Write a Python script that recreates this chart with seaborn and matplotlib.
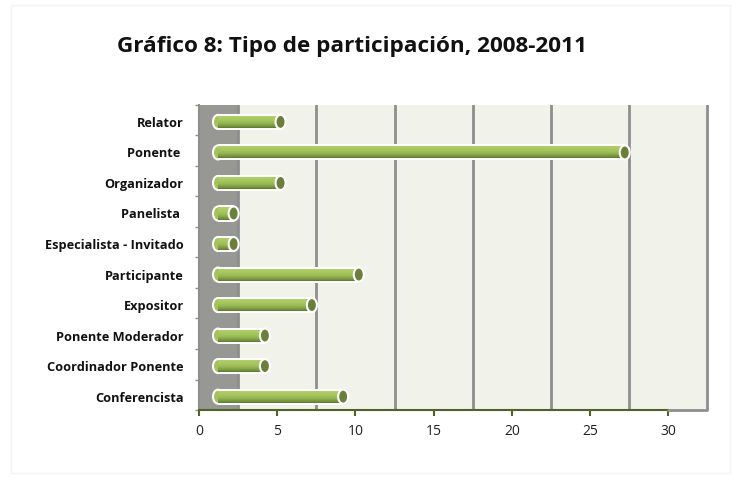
import numpy as np
import pandas as pd
import matplotlib
matplotlib.use('Agg')
from matplotlib import pyplot as plt
import seaborn as sns
from matplotlib.transforms import ScaledTranslation
from matplotlib.patches import Ellipse, Rectangle
from matplotlib.colors import LinearSegmentedColormap

# data
categories = ['Relator', 'Ponente ', 'Organizador', 'Panelista ', 'Especialista - Invitado',
              'Participante', 'Expositor', 'Ponente Moderador', 'Coordinador Ponente', 'Conferencista']
values = [4, 26, 4, 1, 1, 9, 6, 3, 3, 8]
xticks = [0, 5, 10, 15, 20, 25, 30]
gridlines = [2.5, 7.5, 12.5, 17.5, 22.5, 27.5, 32.5]

df = pd.DataFrame({'tipo': categories, 'n': values})

sns.set_style('white')
plt.rcParams['font.family'] = ['Open Sans', 'DejaVu Sans']

fig = plt.figure(figsize=(7.37, 4.83), dpi=100)
ax = fig.add_axes([0.270, 0.151, 0.692, 0.632])

# 3d-ish walls
ax.axvspan(0, 2.5, color='#979794', zorder=0, lw=0)
ax.axvspan(2.5, 32.5, color='#f1f3ea', zorder=0, lw=0)
for g in gridlines:
    ax.axvline(g, color='#8e8e8e', lw=2, zorder=1)

sns.barplot(data=df, y='tipo', x='n', orient='h', width=0.46, color='#9bbb59',
            ax=ax, zorder=3, saturation=1)

# bars sit in the middle of the depth, so they are shifted right
off = ScaledTranslation(0.19, 0, fig.dpi_scale_trans)
cyl = LinearSegmentedColormap.from_list('cyl', ['#b6d46e', '#aecd66', '#a5c55e', '#97b754',
                                                 '#7a9740', '#54692b'])
grad = np.linspace(0, 1, 64).reshape(-1, 1)
tr = ax.transData + off

for bar in ax.containers[0]:
    x0, y0 = bar.get_x(), bar.get_y()
    w, h = bar.get_width(), bar.get_height()
    bar.set_transform(tr)
    bar.set_facecolor('none')
    bar.set_edgecolor('none')
    # rounded back end
    ax.add_patch(Ellipse((x0, y0 + h / 2), 0.64, h, transform=tr, facecolor='#a2c25c',
                         edgecolor='white', lw=1.5, zorder=2.5))
    im = ax.imshow(grad, cmap=cyl, aspect='auto', extent=[x0, x0 + w, y0 + h, y0],
                   transform=tr, zorder=3, interpolation='bilinear')
    im.set_clip_path(bar)
    ax.plot([x0, x0 + w], [y0, y0], color='white', lw=1.4, transform=tr, zorder=3.2,
            solid_capstyle='butt')
    ax.plot([x0, x0 + w], [y0 + h, y0 + h], color='white', lw=1.4, transform=tr, zorder=3.2,
            solid_capstyle='butt')
    # front cap
    ax.add_patch(Ellipse((x0 + w, y0 + h / 2), 0.64, h, transform=tr, facecolor='#6a803a',
                         edgecolor='white', lw=1.5, zorder=4))

ybot = 9.44
ax.set_xlim(0, 32.6)
ax.set_ylim(ybot, -0.56)
ax.set_xlabel('')
ax.set_ylabel('')

ax.set_xticks(xticks)
ax.set_xticklabels([str(t) for t in xticks], fontsize=10, color='#222222')
ax.tick_params(axis='x', bottom=True, direction='out', length=4, width=1.5,
               color='#4f6228', pad=6)
ax.set_yticks(range(len(categories)))
ax.set_yticklabels(categories, fontsize=9.2, fontweight='bold', color='#111111')
ax.set_yticks(np.arange(-0.56, 10, 1), minor=True)
ax.tick_params(axis='y', which='major', left=False, length=0, pad=11)
ax.tick_params(axis='y', which='minor', left=True, direction='out', length=3, width=1,
               color='#8e8e8e')

for s in ['top', 'right']:
    ax.spines[s].set_visible(False)
ax.spines['left'].set_color('#8e8e8e')
ax.spines['left'].set_linewidth(1.5)
ax.spines['bottom'].set_color('#4f6228')
ax.spines['bottom'].set_linewidth(1.5)
ax.spines['bottom'].set_bounds(0, 30)
ax.plot([30, 32.5], [ybot, ybot], color='#8e8e8e', lw=2, clip_on=False, zorder=5)

fig.text(0.478, 0.903, 'Gráfico 8: Tipo de participación, 2008-2011', ha='center', va='center',
         fontsize=16.2, fontweight='bold', color='#111111')

fig.add_artist(Rectangle((0.015, 0.02), 0.975, 0.97, transform=fig.transFigure,
                         facecolor='none', edgecolor='#f4f4f4', lw=1))

fig.savefig('out.png', dpi=100)
